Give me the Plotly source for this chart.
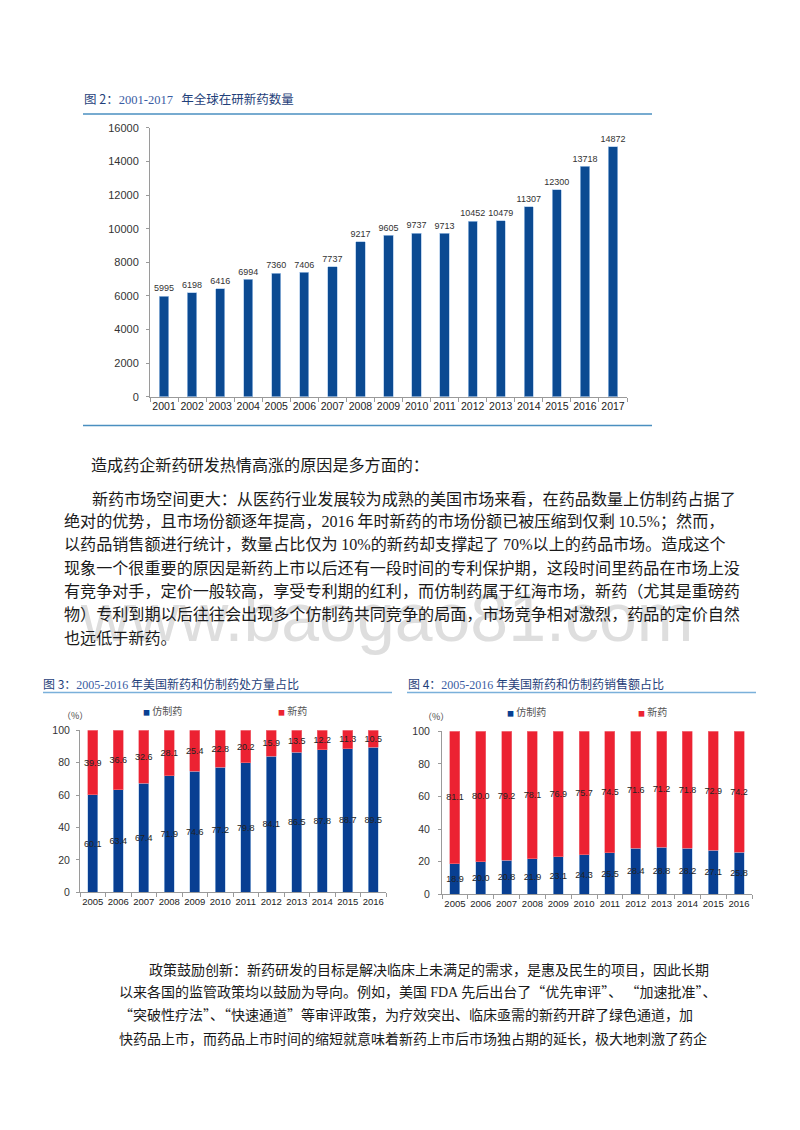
import plotly.graph_objects as go

# page is offset by the browser's 8px body margin; the figure covers the rest
OFF = 8
W, H = 800 - 2 * OFF, 1130 - 2 * OFF
CJK = "Noto Sans CJK SC"
SANS = "Liberation Sans"
SERIF = "Liberation Serif"

# ---------------- data ----------------
years1 = ["2001", "2002", "2003", "2004", "2005", "2006", "2007", "2008", "2009",
          "2010", "2011", "2012", "2013", "2014", "2015", "2016", "2017"]
pipeline = [5995, 6198, 6416, 6994, 7360, 7406, 7737, 9217, 9605,
            9737, 9713, 10452, 10479, 11307, 12300, 13718, 14872]

years2 = ["2005", "2006", "2007", "2008", "2009", "2010",
          "2011", "2012", "2013", "2014", "2015", "2016"]
rx_generic = [60.1, 63.4, 67.4, 71.9, 74.6, 77.2, 79.8, 84.1, 86.5, 87.8, 88.7, 89.5]
rx_new = [39.9, 36.6, 32.6, 28.1, 25.4, 22.8, 20.2, 15.9, 13.5, 12.2, 11.3, 10.5]
sales_generic = [18.9, 20.0, 20.8, 21.9, 23.1, 24.3, 25.5, 28.4, 28.8, 28.2, 27.1, 25.8]
sales_new = [81.1, 80.0, 79.2, 78.1, 76.9, 75.7, 74.5, 71.6, 71.2, 71.8, 72.9, 74.2]

legend_names = ["仿制药", "新药"]

BLUE1 = "#0b4a92"
BLUE = "#083f92"
RED = "#ec2232"
EDGE = "#a8c6e8"


def X(px):
    return (px - OFF) / W


def Y(py):
    return 1 - (py - OFF) / H


def num(s):
    return '<span style="font-family:%s">%s</span>' % (SERIF, s)


fig = go.Figure()

# chart 1
fig.add_trace(go.Bar(
    x=years1, y=pipeline, xaxis="x", yaxis="y", marker=dict(color=BLUE1, line=dict(color=EDGE, width=0.7)),
    width=0.33, text=[str(v) for v in pipeline], textposition="outside", textangle=0,
    constraintext="none", cliponaxis=False,
    textfont=dict(family=SANS, size=11, color="#333"), showlegend=False))

bar_kw = dict(width=0.39, textposition="inside", insidetextanchor="middle", textangle=0,
              constraintext="none", textfont=dict(family=SANS, size=9, color="#222"),
              showlegend=False)

# chart 3
fig.add_trace(go.Bar(
    x=years2, y=rx_generic, xaxis="x2", yaxis="y2",
    marker=dict(color=BLUE, line=dict(color=EDGE, width=0.6)),
    name=legend_names[0], text=["%.1f" % v for v in rx_generic], **bar_kw))
fig.add_trace(go.Bar(
    x=years2, y=rx_new, xaxis="x2", yaxis="y2",
    marker=dict(color=RED, line=dict(color="#f27a84", width=0.6)),
    name=legend_names[1], text=["%.1f" % v for v in rx_new], **bar_kw))

# chart 4
fig.add_trace(go.Bar(
    x=years2, y=sales_generic, xaxis="x3", yaxis="y3",
    marker=dict(color=BLUE, line=dict(color=EDGE, width=0.6)),
    name=legend_names[0], text=["%.1f" % v for v in sales_generic], **bar_kw))
fig.add_trace(go.Bar(
    x=years2, y=sales_new, xaxis="x3", yaxis="y3",
    marker=dict(color=RED, line=dict(color="#f27a84", width=0.6)),
    name=legend_names[1], text=["%.1f" % v for v in sales_new], **bar_kw))

axis_common_x = dict(type="category", showline=True, linecolor="#9a9a9a", linewidth=1,
                     ticks="outside", tickson="boundaries", ticklen=4, tickcolor="#9a9a9a",
                     tickangle=0, showgrid=False, zeroline=False, fixedrange=True)
axis_common_y = dict(showline=True, linecolor="#9a9a9a", linewidth=1, ticks="outside",
                     ticklen=3, tickcolor="#9a9a9a", showgrid=False, zeroline=False,
                     tickformat="d", fixedrange=True)

fig.update_layout(
    width=W, height=H, margin=dict(l=0, r=0, t=0, b=0),
    paper_bgcolor="white", plot_bgcolor="white", barmode="stack",
    uniformtext=dict(mode="show", minsize=9),
    xaxis=dict(axis_common_x, domain=[X(150), X(627)], anchor="y",
               tickfont=dict(family=SANS, size=10.5, color="#222")),
    yaxis=dict(axis_common_y, domain=[Y(395), Y(123)], anchor="x", range=[0, 16000],
               dtick=2000, ticklabelstandoff=5,
               tickfont=dict(family=SANS, size=11, color="#333")),
    xaxis2=dict(axis_common_x, domain=[X(80), X(386)], anchor="y2",
                tickfont=dict(family=SANS, size=9.5, color="#222")),
    yaxis2=dict(axis_common_y, domain=[Y(896), Y(732)], anchor="x2", range=[0, 100],
                dtick=20, ticklabelstandoff=4,
                tickfont=dict(family=SANS, size=10.5, color="#333")),
    xaxis3=dict(axis_common_x, domain=[X(442), X(752)], anchor="y3",
                tickfont=dict(family=SANS, size=9.5, color="#222")),
    yaxis3=dict(axis_common_y, domain=[Y(898), Y(733)], anchor="x3", range=[0, 100],
                dtick=20, ticklabelstandoff=6,
                tickfont=dict(family=SANS, size=10.5, color="#333")),
)


def ann(x, y, text, size, color="#1a1a1a", family=CJK, xanchor="left", yanchor="middle"):
    fig.add_annotation(x=X(x), y=Y(y), xref="paper", yref="paper", text=text,
                       showarrow=False, xanchor=xanchor, yanchor=yanchor, align="left",
                       font=dict(size=size, color=color, family=family))


def hline(x0, x1, y, color, w=1.5):
    fig.add_shape(type="line", xref="paper", yref="paper", x0=X(x0), x1=X(x1),
                  y0=Y(y), y1=Y(y), line=dict(color=color, width=w))


# watermark (drawn first, below text)
ann(386, 618, "www.baogao81.com", 68, color="#dedede", family=SANS, xanchor="center")

# titles and rules
TITLE_C = "#1f3f7a"
DIG_C = "#3a5ca3"
ann(82, 93, '图 2：<span style="font-family:%s;color:%s">2001-2017</span>&#160;&#160; 年全球在研新药数量'
    % (SERIF, DIG_C), 12.5, color=TITLE_C)
hline(83, 652, 109, "#4a8fc0")
hline(83, 652, 424, "#4a8fc0")

ann(41, 685, '图 3：<span style="font-family:%s;color:%s">2005-2016</span> 年美国新药和仿制药处方量占比'
    % (SERIF, DIG_C), 12, color=TITLE_C)
hline(43, 392, 694, "#7ab0da")
ann(406, 685, '图 4：<span style="font-family:%s;color:%s">2005-2016</span> 年美国新药和仿制药销售额占比'
    % (SERIF, DIG_C), 12, color=TITLE_C)
hline(407, 756, 694, "#7ab0da")


# legends
def legend(x, y, color, label):
    ann(x, y, '<span style="font-size:7px;color:%s">■</span> %s' % (color, label), 10, color="#555")


legend(141, 712, BLUE, legend_names[0])
legend(276, 712, RED, legend_names[1])
legend(505, 713, BLUE, legend_names[0])
legend(636, 713, RED, legend_names[1])

ann(60, 717, "（%）", 9, color="#444")
ann(421, 718, "（%）", 9, color="#444")

# paragraph 1
para1 = [
    (89, 463, "造成药企新药研发热情高涨的原因是多方面的："),
    (90, 497, "新药市场空间更大：从医药行业发展较为成熟的美国市场来看，在药品数量上仿制药占据了"),
    (62, 520, "绝对的优势，且市场份额逐年提高，" + num("2016") + " 年时新药的市场份额已被压缩到仅剩 "
     + num("10.5%") + "；然而，"),
    (62, 543, "以药品销售额进行统计，数量占比仅为 " + num("10%") + "的新药却支撑起了 " + num("70%")
     + "以上的药品市场。造成这个"),
    (62, 567, "现象一个很重要的原因是新药上市以后还有一段时间的专利保护期，这段时间里药品在市场上没"),
    (62, 590, "有竞争对手，定价一般较高，享受专利期的红利，而仿制药属于红海市场，新药（尤其是重磅药"),
    (62, 614, "物）专利到期以后往往会出现多个仿制药共同竞争的局面，市场竞争相对激烈，药品的定价自然"),
    (62, 638, "也远低于新药。"),
]
for x, y, t in para1:
    ann(x, y, t, 16.1)

# paragraph 2
para2 = [
    (147, 973, "政策鼓励创新：新药研发的目标是解决临床上未满足的需求，是惠及民生的项目，因此长期"),
    (117, 996, "以来各国的监管政策均以鼓励为导向。例如，美国 " + num("FDA")
     + " 先后出台了“优先审评”、 “加速批准”、"),
    (117, 1019, "“突破性疗法”、“快速通道”等审评政策，为疗效突出、临床亟需的新药开辟了绿色通道，加"),
    (117, 1043, "快药品上市，而药品上市时间的缩短就意味着新药上市后市场独占期的延长，极大地刺激了药企"),
]
for x, y, t in para2:
    ann(x, y, t, 14)

fig.write_html("out.html")
